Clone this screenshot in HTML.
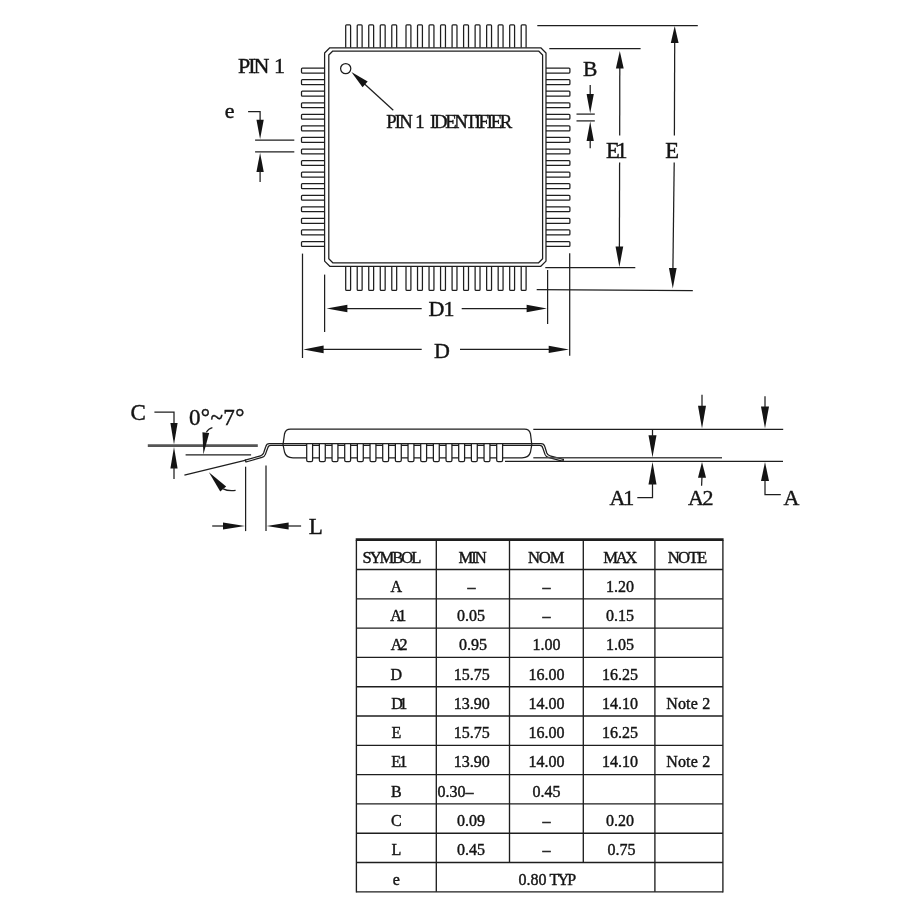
<!DOCTYPE html>
<html lang="en"><head><meta charset="utf-8"><title>TQFP package outline</title>
<style>
html,body{margin:0;padding:0;background:#fff;}
body{width:900px;height:900px;overflow:hidden;}
svg{display:block;will-change:transform;}
text{font-family:"Liberation Serif","Times New Roman",serif;fill:#141414;stroke:#141414;stroke-width:0.42px;}
</style></head><body>
<svg width="900" height="900" viewBox="0 0 900 900">
<rect width="900" height="900" fill="#fff"/>
<g fill="none" stroke="#1e1e1e" stroke-width="1.25" stroke-linejoin="round">
<path d="M345.70,47.8 V25.80 Q345.70,24.9 346.60,24.9 H349.70 Q350.60,24.9 350.60,25.80 V47.8"/>
<path d="M345.70,266.3 V289.50 Q345.70,290.4 346.60,290.4 H349.70 Q350.60,290.4 350.60,289.50 V266.3"/>
<path d="M357.22,47.8 V25.80 Q357.22,24.9 358.12,24.9 H361.22 Q362.12,24.9 362.12,25.80 V47.8"/>
<path d="M357.22,266.3 V289.50 Q357.22,290.4 358.12,290.4 H361.22 Q362.12,290.4 362.12,289.50 V266.3"/>
<path d="M368.74,47.8 V25.80 Q368.74,24.9 369.64,24.9 H372.74 Q373.64,24.9 373.64,25.80 V47.8"/>
<path d="M368.74,266.3 V289.50 Q368.74,290.4 369.64,290.4 H372.74 Q373.64,290.4 373.64,289.50 V266.3"/>
<path d="M380.26,47.8 V25.80 Q380.26,24.9 381.16,24.9 H384.26 Q385.16,24.9 385.16,25.80 V47.8"/>
<path d="M380.26,266.3 V289.50 Q380.26,290.4 381.16,290.4 H384.26 Q385.16,290.4 385.16,289.50 V266.3"/>
<path d="M391.78,47.8 V25.80 Q391.78,24.9 392.68,24.9 H395.78 Q396.68,24.9 396.68,25.80 V47.8"/>
<path d="M391.78,266.3 V289.50 Q391.78,290.4 392.68,290.4 H395.78 Q396.68,290.4 396.68,289.50 V266.3"/>
<path d="M406.00,47.8 V25.80 Q406.00,24.9 406.90,24.9 H410.00 Q410.90,24.9 410.90,25.80 V47.8"/>
<path d="M406.00,266.3 V289.50 Q406.00,290.4 406.90,290.4 H410.00 Q410.90,290.4 410.90,289.50 V266.3"/>
<path d="M417.52,47.8 V25.80 Q417.52,24.9 418.42,24.9 H421.52 Q422.42,24.9 422.42,25.80 V47.8"/>
<path d="M417.52,266.3 V289.50 Q417.52,290.4 418.42,290.4 H421.52 Q422.42,290.4 422.42,289.50 V266.3"/>
<path d="M429.04,47.8 V25.80 Q429.04,24.9 429.94,24.9 H433.04 Q433.94,24.9 433.94,25.80 V47.8"/>
<path d="M429.04,266.3 V289.50 Q429.04,290.4 429.94,290.4 H433.04 Q433.94,290.4 433.94,289.50 V266.3"/>
<path d="M440.56,47.8 V25.80 Q440.56,24.9 441.46,24.9 H444.56 Q445.46,24.9 445.46,25.80 V47.8"/>
<path d="M440.56,266.3 V289.50 Q440.56,290.4 441.46,290.4 H444.56 Q445.46,290.4 445.46,289.50 V266.3"/>
<path d="M452.08,47.8 V25.80 Q452.08,24.9 452.98,24.9 H456.08 Q456.98,24.9 456.98,25.80 V47.8"/>
<path d="M452.08,266.3 V289.50 Q452.08,290.4 452.98,290.4 H456.08 Q456.98,290.4 456.98,289.50 V266.3"/>
<path d="M463.60,47.8 V25.80 Q463.60,24.9 464.50,24.9 H467.60 Q468.50,24.9 468.50,25.80 V47.8"/>
<path d="M463.60,266.3 V289.50 Q463.60,290.4 464.50,290.4 H467.60 Q468.50,290.4 468.50,289.50 V266.3"/>
<path d="M475.12,47.8 V25.80 Q475.12,24.9 476.02,24.9 H479.12 Q480.02,24.9 480.02,25.80 V47.8"/>
<path d="M475.12,266.3 V289.50 Q475.12,290.4 476.02,290.4 H479.12 Q480.02,290.4 480.02,289.50 V266.3"/>
<path d="M486.64,47.8 V25.80 Q486.64,24.9 487.54,24.9 H490.64 Q491.54,24.9 491.54,25.80 V47.8"/>
<path d="M486.64,266.3 V289.50 Q486.64,290.4 487.54,290.4 H490.64 Q491.54,290.4 491.54,289.50 V266.3"/>
<path d="M498.16,47.8 V25.80 Q498.16,24.9 499.06,24.9 H502.16 Q503.06,24.9 503.06,25.80 V47.8"/>
<path d="M498.16,266.3 V289.50 Q498.16,290.4 499.06,290.4 H502.16 Q503.06,290.4 503.06,289.50 V266.3"/>
<path d="M509.68,47.8 V25.80 Q509.68,24.9 510.58,24.9 H513.68 Q514.58,24.9 514.58,25.80 V47.8"/>
<path d="M509.68,266.3 V289.50 Q509.68,290.4 510.58,290.4 H513.68 Q514.58,290.4 514.58,289.50 V266.3"/>
<path d="M521.20,47.8 V25.80 Q521.20,24.9 522.10,24.9 H525.20 Q526.10,24.9 526.10,25.80 V47.8"/>
<path d="M521.20,266.3 V289.50 Q521.20,290.4 522.10,290.4 H525.20 Q526.10,290.4 526.10,289.50 V266.3"/>
<path d="M324.6,68.10 H302.40 Q301.5,68.10 301.5,69.00 V72.10 Q301.5,73.00 302.4,73.00 H324.6"/>
<path d="M546.0,68.10 H569.00 Q569.9,68.10 569.9,69.00 V72.10 Q569.9,73.00 569.0,73.00 H546.0"/>
<path d="M324.6,79.66 H302.40 Q301.5,79.66 301.5,80.56 V83.66 Q301.5,84.56 302.4,84.56 H324.6"/>
<path d="M546.0,79.66 H569.00 Q569.9,79.66 569.9,80.56 V83.66 Q569.9,84.56 569.0,84.56 H546.0"/>
<path d="M324.6,91.22 H302.40 Q301.5,91.22 301.5,92.12 V95.22 Q301.5,96.12 302.4,96.12 H324.6"/>
<path d="M546.0,91.22 H569.00 Q569.9,91.22 569.9,92.12 V95.22 Q569.9,96.12 569.0,96.12 H546.0"/>
<path d="M324.6,102.78 H302.40 Q301.5,102.78 301.5,103.68 V106.78 Q301.5,107.68 302.4,107.68 H324.6"/>
<path d="M546.0,102.78 H569.00 Q569.9,102.78 569.9,103.68 V106.78 Q569.9,107.68 569.0,107.68 H546.0"/>
<path d="M324.6,114.34 H302.40 Q301.5,114.34 301.5,115.24 V118.34 Q301.5,119.24 302.4,119.24 H324.6"/>
<path d="M546.0,114.34 H569.00 Q569.9,114.34 569.9,115.24 V118.34 Q569.9,119.24 569.0,119.24 H546.0"/>
<path d="M324.6,125.90 H302.40 Q301.5,125.90 301.5,126.80 V129.90 Q301.5,130.80 302.4,130.80 H324.6"/>
<path d="M546.0,125.90 H569.00 Q569.9,125.90 569.9,126.80 V129.90 Q569.9,130.80 569.0,130.80 H546.0"/>
<path d="M324.6,137.46 H302.40 Q301.5,137.46 301.5,138.36 V141.46 Q301.5,142.36 302.4,142.36 H324.6"/>
<path d="M546.0,137.46 H569.00 Q569.9,137.46 569.9,138.36 V141.46 Q569.9,142.36 569.0,142.36 H546.0"/>
<path d="M324.6,149.02 H302.40 Q301.5,149.02 301.5,149.92 V153.02 Q301.5,153.92 302.4,153.92 H324.6"/>
<path d="M546.0,149.02 H569.00 Q569.9,149.02 569.9,149.92 V153.02 Q569.9,153.92 569.0,153.92 H546.0"/>
<path d="M324.6,160.58 H302.40 Q301.5,160.58 301.5,161.48 V164.58 Q301.5,165.48 302.4,165.48 H324.6"/>
<path d="M546.0,160.58 H569.00 Q569.9,160.58 569.9,161.48 V164.58 Q569.9,165.48 569.0,165.48 H546.0"/>
<path d="M324.6,172.14 H302.40 Q301.5,172.14 301.5,173.04 V176.14 Q301.5,177.04 302.4,177.04 H324.6"/>
<path d="M546.0,172.14 H569.00 Q569.9,172.14 569.9,173.04 V176.14 Q569.9,177.04 569.0,177.04 H546.0"/>
<path d="M324.6,183.70 H302.40 Q301.5,183.70 301.5,184.60 V187.70 Q301.5,188.60 302.4,188.60 H324.6"/>
<path d="M546.0,183.70 H569.00 Q569.9,183.70 569.9,184.60 V187.70 Q569.9,188.60 569.0,188.60 H546.0"/>
<path d="M324.6,195.26 H302.40 Q301.5,195.26 301.5,196.16 V199.26 Q301.5,200.16 302.4,200.16 H324.6"/>
<path d="M546.0,195.26 H569.00 Q569.9,195.26 569.9,196.16 V199.26 Q569.9,200.16 569.0,200.16 H546.0"/>
<path d="M324.6,206.82 H302.40 Q301.5,206.82 301.5,207.72 V210.82 Q301.5,211.72 302.4,211.72 H324.6"/>
<path d="M546.0,206.82 H569.00 Q569.9,206.82 569.9,207.72 V210.82 Q569.9,211.72 569.0,211.72 H546.0"/>
<path d="M324.6,218.38 H302.40 Q301.5,218.38 301.5,219.28 V222.38 Q301.5,223.28 302.4,223.28 H324.6"/>
<path d="M546.0,218.38 H569.00 Q569.9,218.38 569.9,219.28 V222.38 Q569.9,223.28 569.0,223.28 H546.0"/>
<path d="M324.6,229.94 H302.40 Q301.5,229.94 301.5,230.84 V233.94 Q301.5,234.84 302.4,234.84 H324.6"/>
<path d="M546.0,229.94 H569.00 Q569.9,229.94 569.9,230.84 V233.94 Q569.9,234.84 569.0,234.84 H546.0"/>
<path d="M324.6,241.50 H302.40 Q301.5,241.50 301.5,242.40 V245.50 Q301.5,246.40 302.4,246.40 H324.6"/>
<path d="M546.0,241.50 H569.00 Q569.9,241.50 569.9,242.40 V245.50 Q569.9,246.40 569.0,246.40 H546.0"/>
<path d="M329.80,47.80 L540.80,47.80 L546.00,53.00 L546.00,261.10 L540.80,266.30 L329.80,266.30 L324.60,261.10 L324.60,53.00 Z" fill="#fff"/>
<path d="M332.80,51.00 L538.60,51.00 L542.60,55.00 L542.60,258.80 L538.60,262.80 L332.80,262.80 L328.80,258.80 L328.80,55.00 Z"/>
<circle cx="345.7" cy="68.6" r="5.1" stroke-width="1.25"/>
</g>
<line x1="393.30" y1="110.20" x2="358.00" y2="78.00" stroke="#1e1e1e" stroke-width="1.25"/>
<polygon points="351.40,72.00 367.67,81.59 362.57,87.23" fill="#141414"/>
<text x="386.20" y="128.30" font-size="18.7" text-anchor="start" style="letter-spacing:-1.8px">PIN</text>
<text x="415.20" y="128.30" font-size="18.7" text-anchor="start">1</text>
<text x="430.00" y="128.30" font-size="18.7" text-anchor="start" style="letter-spacing:-2.28px">IDENTIFIER</text>
<text x="238.10" y="73.40" font-size="22" text-anchor="start" style="letter-spacing:-2.1px">PIN</text>
<text x="274.00" y="73.40" font-size="22" text-anchor="start">1</text>
<text x="224.80" y="117.80" font-size="22" text-anchor="start">e</text>
<path d="M248.1,111.7 H260.1 V121" fill="none" stroke="#1e1e1e" stroke-width="1.25"/>
<polygon points="260.10,139.20 256.45,119.80 263.75,119.80" fill="#141414"/>
<line x1="255.10" y1="140.00" x2="294.30" y2="140.00" stroke="#1e1e1e" stroke-width="1.25"/>
<line x1="255.10" y1="151.90" x2="294.30" y2="151.90" stroke="#1e1e1e" stroke-width="1.25"/>
<polygon points="260.10,152.80 263.75,172.00 256.45,172.00" fill="#141414"/>
<line x1="260.10" y1="171.00" x2="260.10" y2="181.90" stroke="#1e1e1e" stroke-width="1.25"/>
<text x="590.20" y="75.80" font-size="21.5" text-anchor="middle">B</text>
<line x1="590.20" y1="85.10" x2="590.20" y2="95.00" stroke="#1e1e1e" stroke-width="1.25"/>
<polygon points="590.20,113.40 586.60,93.90 593.80,93.90" fill="#141414"/>
<line x1="576.50" y1="114.10" x2="594.80" y2="114.10" stroke="#1e1e1e" stroke-width="1.25"/>
<line x1="576.50" y1="120.90" x2="594.80" y2="120.90" stroke="#1e1e1e" stroke-width="1.25"/>
<polygon points="590.20,121.60 593.80,141.10 586.60,141.10" fill="#141414"/>
<line x1="590.20" y1="140.00" x2="590.20" y2="148.30" stroke="#1e1e1e" stroke-width="1.25"/>
<line x1="549.30" y1="48.70" x2="640.60" y2="48.70" stroke="#1e1e1e" stroke-width="1.25"/>
<line x1="545.30" y1="267.70" x2="635.30" y2="267.70" stroke="#1e1e1e" stroke-width="1.25"/>
<line x1="619.80" y1="66.00" x2="619.70" y2="135.50" stroke="#1e1e1e" stroke-width="1.25"/>
<line x1="619.60" y1="162.50" x2="619.40" y2="248.00" stroke="#1e1e1e" stroke-width="1.25"/>
<polygon points="619.80,51.00 623.70,68.40 615.90,68.40" fill="#141414"/>
<polygon points="619.40,266.90 615.55,246.60 623.25,246.60" fill="#141414"/>
<text x="606.00" y="157.90" font-size="22.5" text-anchor="start">E</text>
<text x="616.20" y="157.90" font-size="22.5" text-anchor="start">1</text>
<line x1="537.30" y1="25.50" x2="697.80" y2="25.50" stroke="#1e1e1e" stroke-width="1.25"/>
<line x1="536.70" y1="289.70" x2="692.80" y2="290.50" stroke="#1e1e1e" stroke-width="1.25"/>
<line x1="674.70" y1="40.00" x2="674.40" y2="135.50" stroke="#1e1e1e" stroke-width="1.25"/>
<line x1="674.20" y1="162.50" x2="672.90" y2="269.00" stroke="#1e1e1e" stroke-width="1.25"/>
<polygon points="674.70,26.00 678.60,43.00 670.80,43.00" fill="#141414"/>
<polygon points="672.80,288.60 668.95,268.00 676.65,268.00" fill="#141414"/>
<text x="672.20" y="157.80" font-size="22.5" text-anchor="middle">E</text>
<line x1="324.60" y1="274.60" x2="324.60" y2="332.00" stroke="#1e1e1e" stroke-width="1.25"/>
<line x1="547.60" y1="270.00" x2="547.60" y2="324.00" stroke="#1e1e1e" stroke-width="1.25"/>
<line x1="343.00" y1="308.50" x2="421.70" y2="308.50" stroke="#1e1e1e" stroke-width="1.25"/>
<line x1="461.70" y1="308.50" x2="529.00" y2="308.50" stroke="#1e1e1e" stroke-width="1.25"/>
<polygon points="326.60,308.50 347.40,304.75 347.40,312.25" fill="#141414"/>
<polygon points="546.90,308.50 526.60,312.15 526.60,304.85" fill="#141414"/>
<text x="428.60" y="316.30" font-size="22" text-anchor="start">D</text>
<text x="443.40" y="316.30" font-size="22" text-anchor="start">1</text>
<line x1="302.50" y1="253.60" x2="302.50" y2="358.00" stroke="#1e1e1e" stroke-width="1.25"/>
<line x1="569.70" y1="253.30" x2="569.70" y2="355.70" stroke="#1e1e1e" stroke-width="1.25"/>
<line x1="321.00" y1="349.40" x2="421.70" y2="349.40" stroke="#1e1e1e" stroke-width="1.25"/>
<line x1="460.00" y1="349.40" x2="551.00" y2="349.40" stroke="#1e1e1e" stroke-width="1.25"/>
<polygon points="303.30,349.40 323.60,345.60 323.60,353.20" fill="#141414"/>
<polygon points="569.00,349.40 548.70,353.05 548.70,345.75" fill="#141414"/>
<text x="442.00" y="358.20" font-size="22" text-anchor="middle">D</text>
<g fill="none" stroke="#1e1e1e" stroke-width="1.25" stroke-linejoin="round" stroke-linecap="round">
<path d="M290.5,429.2 H524.5 Q529.5,429.2 530.5,434 L531.8,444.6 L530.5,452 Q529,457.8 522,457.8 H293 Q286,457.8 284.5,452 L283,444.6 L284.5,434 Q285.5,429.2 290.5,429.2 Z" fill="#fff"/>
<path d="M306,443.6 H269.5 Q266.5,443.6 265.8,446.5 L263.6,453 Q262.8,455.2 260.5,455.8 L245.2,460.2"/>
<path d="M306,445.4 H270.8 Q268.3,445.4 267.7,448 L265.4,454.4 Q264.5,456.8 262,457.4 L246,462 L245.2,460.2"/>
<path d="M503,443.6 H541 Q544,443.6 544.8,446.5 L546.8,453 Q547.6,455.2 550,455.8 L563.4,459.4"/>
<path d="M503,445.4 H539.6 Q542.2,445.4 542.8,448 L545,454.4 Q545.9,456.8 548.4,457.4 L563,461.4 L563.4,459.4"/>
<path d="M306,443.6 H503 M306,445.4 H503"/>
<path d="M306.70,443.6 V460.2 Q306.70,461.6 308.10,461.6 H311.20 Q312.60,461.6 312.60,460.2 V443.6 Z" fill="#fff"/>
<path d="M319.37,443.6 V460.2 Q319.37,461.6 320.77,461.6 H323.87 Q325.27,461.6 325.27,460.2 V443.6 Z" fill="#fff"/>
<path d="M332.03,443.6 V460.2 Q332.03,461.6 333.43,461.6 H336.53 Q337.93,461.6 337.93,460.2 V443.6 Z" fill="#fff"/>
<path d="M344.70,443.6 V460.2 Q344.70,461.6 346.10,461.6 H349.20 Q350.60,461.6 350.60,460.2 V443.6 Z" fill="#fff"/>
<path d="M357.37,443.6 V460.2 Q357.37,461.6 358.77,461.6 H361.87 Q363.27,461.6 363.27,460.2 V443.6 Z" fill="#fff"/>
<path d="M370.03,443.6 V460.2 Q370.03,461.6 371.43,461.6 H374.53 Q375.93,461.6 375.93,460.2 V443.6 Z" fill="#fff"/>
<path d="M382.70,443.6 V460.2 Q382.70,461.6 384.10,461.6 H387.20 Q388.60,461.6 388.60,460.2 V443.6 Z" fill="#fff"/>
<path d="M395.37,443.6 V460.2 Q395.37,461.6 396.77,461.6 H399.87 Q401.27,461.6 401.27,460.2 V443.6 Z" fill="#fff"/>
<path d="M408.03,443.6 V460.2 Q408.03,461.6 409.43,461.6 H412.53 Q413.93,461.6 413.93,460.2 V443.6 Z" fill="#fff"/>
<path d="M420.70,443.6 V460.2 Q420.70,461.6 422.10,461.6 H425.20 Q426.60,461.6 426.60,460.2 V443.6 Z" fill="#fff"/>
<path d="M433.37,443.6 V460.2 Q433.37,461.6 434.77,461.6 H437.87 Q439.27,461.6 439.27,460.2 V443.6 Z" fill="#fff"/>
<path d="M446.03,443.6 V460.2 Q446.03,461.6 447.43,461.6 H450.53 Q451.93,461.6 451.93,460.2 V443.6 Z" fill="#fff"/>
<path d="M458.70,443.6 V460.2 Q458.70,461.6 460.10,461.6 H463.20 Q464.60,461.6 464.60,460.2 V443.6 Z" fill="#fff"/>
<path d="M471.37,443.6 V460.2 Q471.37,461.6 472.77,461.6 H475.87 Q477.27,461.6 477.27,460.2 V443.6 Z" fill="#fff"/>
<path d="M484.03,443.6 V460.2 Q484.03,461.6 485.43,461.6 H488.53 Q489.93,461.6 489.93,460.2 V443.6 Z" fill="#fff"/>
<path d="M496.70,443.6 V460.2 Q496.70,461.6 498.10,461.6 H501.20 Q502.60,461.6 502.60,460.2 V443.6 Z" fill="#fff"/>
</g>
<line x1="533.30" y1="429.30" x2="783.20" y2="429.30" stroke="#1e1e1e" stroke-width="1.25"/>
<line x1="533.30" y1="457.80" x2="722.00" y2="457.80" stroke="#4a4a4a" stroke-width="1.5"/>
<line x1="505.00" y1="461.30" x2="783.00" y2="461.30" stroke="#1e1e1e" stroke-width="1.25"/>
<polygon points="652.50,457.30 648.50,435.30 656.50,435.30" fill="#141414"/>
<line x1="652.50" y1="429.30" x2="652.50" y2="437.00" stroke="#1e1e1e" stroke-width="1.25"/>
<polygon points="652.50,462.00 656.50,484.40 648.50,484.40" fill="#141414"/>
<path d="M652.5,482 V497.5 H637.3" fill="none" stroke="#1e1e1e" stroke-width="1.25"/>
<text x="609.50" y="504.50" font-size="22" text-anchor="start">A</text>
<text x="623.20" y="504.50" font-size="22" text-anchor="start">1</text>
<line x1="702.00" y1="394.80" x2="702.00" y2="407.00" stroke="#1e1e1e" stroke-width="1.25"/>
<polygon points="702.00,428.40 698.00,405.80 706.00,405.80" fill="#141414"/>
<polygon points="702.00,462.00 706.00,477.80 698.00,477.80" fill="#141414"/>
<line x1="702.00" y1="476.00" x2="701.60" y2="485.80" stroke="#1e1e1e" stroke-width="1.25"/>
<text x="688.00" y="504.50" font-size="22" text-anchor="start">A</text>
<text x="702.60" y="504.50" font-size="22" text-anchor="start">2</text>
<line x1="765.00" y1="396.20" x2="765.00" y2="408.00" stroke="#1e1e1e" stroke-width="1.25"/>
<polygon points="765.00,428.50 761.00,406.50 769.00,406.50" fill="#141414"/>
<polygon points="765.00,462.00 769.00,481.00 761.00,481.00" fill="#141414"/>
<path d="M765,479 V494.7 H780.8" fill="none" stroke="#1e1e1e" stroke-width="1.25"/>
<text x="783.40" y="504.50" font-size="22" text-anchor="start">A</text>
<text x="130.60" y="419.80" font-size="23" text-anchor="start">C</text>
<path d="M154.4,412.2 H174 V424" fill="none" stroke="#1e1e1e" stroke-width="1.25"/>
<polygon points="174.00,444.60 170.40,423.10 177.60,423.10" fill="#141414"/>
<line x1="147.80" y1="445.70" x2="257.80" y2="445.70" stroke="#555" stroke-width="2.7"/>
<polygon points="174.00,447.00 177.60,468.50 170.40,468.50" fill="#141414"/>
<line x1="174.00" y1="467.00" x2="174.00" y2="478.90" stroke="#1e1e1e" stroke-width="1.25"/>
<line x1="185.60" y1="454.90" x2="251.10" y2="454.90" stroke="#1e1e1e" stroke-width="1.25"/>
<line x1="184.40" y1="475.10" x2="246.00" y2="460.20" stroke="#1e1e1e" stroke-width="1.25"/>
<text x="188.90" y="425.30" font-size="23" text-anchor="start" textLength="55.5" lengthAdjust="spacing">0°~7°</text>
<path d="M212.4,427.6 Q208.5,428.6 206.3,432.3" fill="none" stroke="#1e1e1e" stroke-width="1.25"/>
<polygon points="203.40,454.60 202.43,432.36 209.19,433.10" fill="#141414"/>
<polygon points="208.90,472.20 226.16,486.38 220.24,491.45" fill="#141414"/>
<path d="M223.2,488.9 Q228,491.4 235.6,490.4" fill="none" stroke="#1e1e1e" stroke-width="1.25"/>
<line x1="245.60" y1="466.70" x2="245.60" y2="531.10" stroke="#1e1e1e" stroke-width="1.25"/>
<line x1="266.00" y1="465.60" x2="266.00" y2="531.10" stroke="#1e1e1e" stroke-width="1.25"/>
<line x1="212.20" y1="526.00" x2="225.00" y2="526.00" stroke="#1e1e1e" stroke-width="1.25"/>
<polygon points="245.00,526.00 223.00,529.45 223.00,522.55" fill="#141414"/>
<polygon points="266.60,526.00 288.60,522.55 288.60,529.45" fill="#141414"/>
<line x1="287.00" y1="526.00" x2="301.10" y2="526.00" stroke="#1e1e1e" stroke-width="1.25"/>
<text x="308.80" y="534.00" font-size="23" text-anchor="start">L</text>
<g stroke="#1e1e1e" stroke-width="1.35" fill="none">
<line x1="355.7" y1="539.6" x2="723.6" y2="539.6" stroke-width="2.7"/>
<line x1="356.4" y1="569.50" x2="722.9" y2="569.50"/>
<line x1="356.4" y1="598.80" x2="722.9" y2="598.80"/>
<line x1="356.4" y1="628.10" x2="722.9" y2="628.10"/>
<line x1="356.4" y1="657.40" x2="722.9" y2="657.40"/>
<line x1="356.4" y1="686.70" x2="722.9" y2="686.70"/>
<line x1="356.4" y1="716.00" x2="722.9" y2="716.00"/>
<line x1="356.4" y1="745.30" x2="722.9" y2="745.30"/>
<line x1="356.4" y1="774.60" x2="722.9" y2="774.60"/>
<line x1="356.4" y1="803.90" x2="722.9" y2="803.90"/>
<line x1="356.4" y1="833.20" x2="722.9" y2="833.20"/>
<line x1="356.4" y1="862.50" x2="722.9" y2="862.50"/>
<line x1="356.4" y1="891.80" x2="722.9" y2="891.80"/>
<line x1="356.4" y1="540.2" x2="356.4" y2="892.40"/>
<line x1="436.3" y1="540.2" x2="436.3" y2="891.80"/>
<line x1="509.5" y1="540.2" x2="509.5" y2="862.50"/>
<line x1="583.3" y1="540.2" x2="583.3" y2="862.50"/>
<line x1="654.9" y1="540.2" x2="654.9" y2="891.80"/>
<line x1="722.9" y1="540.2" x2="722.9" y2="892.40"/>
</g>
<text x="362.50" y="563.10" font-size="16.6" text-anchor="start" textLength="58.8" lengthAdjust="spacing">SYMBOL</text>
<text x="458.50" y="563.10" font-size="16.6" text-anchor="start" textLength="28.2" lengthAdjust="spacing">MIN</text>
<text x="528.00" y="563.10" font-size="16.6" text-anchor="start" textLength="36.4" lengthAdjust="spacing">NOM</text>
<text x="603.30" y="563.10" font-size="16.6" text-anchor="start" textLength="34.0" lengthAdjust="spacing">MAX</text>
<text x="667.70" y="563.10" font-size="16.6" text-anchor="start" textLength="39.4" lengthAdjust="spacing">NOTE</text>
<text x="396.35" y="591.60" font-size="16" text-anchor="middle">A</text>
<text x="471.50" y="591.60" font-size="16" text-anchor="middle">–</text>
<text x="546.40" y="591.60" font-size="16" text-anchor="middle">–</text>
<text x="619.90" y="591.60" font-size="16" text-anchor="middle">1.20</text>
<text x="390.35" y="620.90" font-size="16" text-anchor="start" textLength="16.0" lengthAdjust="spacing">A1</text>
<text x="471.00" y="620.90" font-size="16" text-anchor="middle">0.05</text>
<text x="546.40" y="620.90" font-size="16" text-anchor="middle">–</text>
<text x="619.90" y="620.90" font-size="16" text-anchor="middle">0.15</text>
<text x="390.80" y="650.20" font-size="16" text-anchor="start" textLength="16.6" lengthAdjust="spacing">A2</text>
<text x="472.90" y="650.20" font-size="16" text-anchor="middle">0.95</text>
<text x="546.40" y="650.20" font-size="16" text-anchor="middle">1.00</text>
<text x="619.90" y="650.20" font-size="16" text-anchor="middle">1.05</text>
<text x="396.35" y="679.50" font-size="16" text-anchor="middle">D</text>
<text x="471.70" y="679.50" font-size="16" text-anchor="middle">15.75</text>
<text x="546.40" y="679.50" font-size="16" text-anchor="middle">16.00</text>
<text x="619.90" y="679.50" font-size="16" text-anchor="middle">16.25</text>
<text x="391.15" y="708.80" font-size="16" text-anchor="start" textLength="16.0" lengthAdjust="spacing">D1</text>
<text x="471.70" y="708.80" font-size="16" text-anchor="middle">13.90</text>
<text x="546.40" y="708.80" font-size="16" text-anchor="middle">14.00</text>
<text x="619.90" y="708.80" font-size="16" text-anchor="middle">14.10</text>
<text x="666.20" y="708.80" font-size="16" text-anchor="start" textLength="44.0" lengthAdjust="spacing">Note 2</text>
<text x="396.35" y="738.10" font-size="16" text-anchor="middle">E</text>
<text x="471.70" y="738.10" font-size="16" text-anchor="middle">15.75</text>
<text x="546.40" y="738.10" font-size="16" text-anchor="middle">16.00</text>
<text x="619.90" y="738.10" font-size="16" text-anchor="middle">16.25</text>
<text x="391.15" y="767.40" font-size="16" text-anchor="start" textLength="16.0" lengthAdjust="spacing">E1</text>
<text x="471.70" y="767.40" font-size="16" text-anchor="middle">13.90</text>
<text x="546.40" y="767.40" font-size="16" text-anchor="middle">14.00</text>
<text x="619.90" y="767.40" font-size="16" text-anchor="middle">14.10</text>
<text x="666.20" y="767.40" font-size="16" text-anchor="start" textLength="44.0" lengthAdjust="spacing">Note 2</text>
<text x="396.35" y="796.70" font-size="16" text-anchor="middle">B</text>
<text x="437.60" y="796.70" font-size="16" text-anchor="start">0.30–</text>
<text x="546.40" y="796.70" font-size="16" text-anchor="middle">0.45</text>
<text x="396.35" y="826.00" font-size="16" text-anchor="middle">C</text>
<text x="471.00" y="826.00" font-size="16" text-anchor="middle">0.09</text>
<text x="546.40" y="826.00" font-size="16" text-anchor="middle">–</text>
<text x="619.90" y="826.00" font-size="16" text-anchor="middle">0.20</text>
<text x="396.35" y="855.30" font-size="16" text-anchor="middle">L</text>
<text x="471.00" y="855.30" font-size="16" text-anchor="middle">0.45</text>
<text x="546.40" y="855.30" font-size="16" text-anchor="middle">–</text>
<text x="621.50" y="855.30" font-size="16" text-anchor="middle">0.75</text>
<text x="396.35" y="884.60" font-size="16" text-anchor="middle">e</text>
<text x="518.60" y="884.60" font-size="16" text-anchor="start">0.80</text>
<text x="549.60" y="884.60" font-size="16" text-anchor="start" textLength="26.5" lengthAdjust="spacing">TYP</text>
</svg></body></html>
